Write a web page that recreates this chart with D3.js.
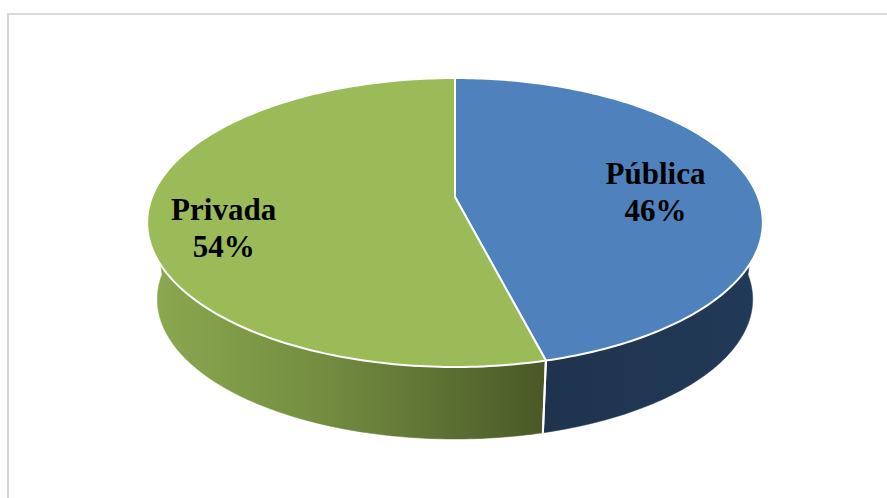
<!DOCTYPE html>
<html>
<head>
<meta charset="utf-8">
<script src="https://cdn.jsdelivr.net/npm/d3@7"></script>
<style>
  html, body { margin: 0; padding: 0; background: #ffffff; }
  svg { display: block; }
</style>
</head>
<body>
<svg id="chart" width="887" height="498"></svg>
<script>
// ---- data ----
const categories = ["Pública", "Privada"];
const values = [46, 54];
const percentLabels = ["46%", "54%"];

// ---- styles / layout ----
const topColors = ["#4f81bd", "#9bbb59"];
const W = 887, H = 498;
const svg = d3.select("#chart");

// frame
svg.append("rect")
  .attr("x", 8).attr("y", 14)
  .attr("width", W + 10).attr("height", H + 10)
  .attr("fill", "none").attr("stroke", "#d9d9d9").attr("stroke-width", 2);

// perspective projection of disc planes
const planes = {
  top:    { cx: 455, cy: 197,   A: 303, B: 140,   w: 0.1765 },
  bottom: { cx: 455, cy: 274.6, A: 293, B: 135.4, w: 0.1765 }
};
function proj(plane, a, r = 1) {
  const p = planes[plane];
  const u = r * Math.sin(a), v = -r * Math.cos(a);
  const den = 1 - p.w * v;
  return [p.cx + p.A * u / den, p.cy + p.B * v / den];
}
function arcPts(plane, a0, a1) {
  const pts = [];
  const steps = Math.max(2, Math.ceil(Math.abs(a1 - a0) / (Math.PI / 180)));
  for (let i = 0; i <= steps; i++) pts.push(proj(plane, a0 + (a1 - a0) * i / steps));
  return pts;
}
const line = d3.line().curve(d3.curveLinear);

const pie = d3.pie().sort(null).value(d => d.value);
const arcs = pie(categories.map((c, i) => ({ cat: c, value: values[i], pct: percentLabels[i], i })));

// defs: side gradients
const defs = svg.append("defs");
const gGreen = defs.append("linearGradient").attr("id", "sideGreen")
  .attr("gradientUnits", "userSpaceOnUse")
  .attr("x1", 150).attr("y1", 0).attr("x2", 542).attr("y2", 0);
gGreen.append("stop").attr("offset", 0).attr("stop-color", "#8ba94f");
gGreen.append("stop").attr("offset", 0.45).attr("stop-color", "#738c40");
gGreen.append("stop").attr("offset", 1).attr("stop-color", "#4a5927");
const gBlue = defs.append("linearGradient").attr("id", "sideBlue")
  .attr("gradientUnits", "userSpaceOnUse")
  .attr("x1", 542).attr("y1", 0).attr("x2", 760).attr("y2", 0);
gBlue.append("stop").attr("offset", 0).attr("stop-color", "#1f334e");
gBlue.append("stop").attr("offset", 1).attr("stop-color", "#213a57");
const sideFills = ["url(#sideBlue)", "url(#sideGreen)"];

// sides (front visible range only)
const visLo = Math.PI / 2, visHi = 3 * Math.PI / 2;
const sideG = svg.append("g");
arcs.forEach((d, i) => {
  const a0 = Math.max(d.startAngle, visLo), a1 = Math.min(d.endAngle, visHi);
  if (a1 <= a0) return;
  const topArc = arcPts("top", a0, a1);
  const botArc = arcPts("bottom", a0, a1).reverse();
  sideG.append("path")
    .attr("d", line(topArc.concat(botArc)) + "Z")
    .attr("fill", sideFills[i])
    .attr("stroke", sideFills[i]).attr("stroke-width", 0.5);
});
// white seam lines on the side at slice boundaries
arcs.forEach(d => {
  [d.startAngle, d.endAngle].forEach(a => {
    if (a > visLo && a < visHi) {
      const p0 = proj("top", a), p1 = proj("bottom", a);
      sideG.append("line")
        .attr("x1", p0[0]).attr("y1", p0[1]).attr("x2", p1[0]).attr("y2", p1[1])
        .attr("stroke", "#ffffff").attr("stroke-width", 2);
    }
  });
});

// tops
const topG = svg.append("g");
arcs.forEach((d, i) => {
  const pts = [proj("top", 0, 0)].concat(arcPts("top", d.startAngle, d.endAngle));
  topG.append("path")
    .attr("d", line(pts) + "Z")
    .attr("fill", topColors[i])
    .attr("stroke", "#ffffff").attr("stroke-width", 2)
    .attr("stroke-linejoin", "round");
});

// labels
const labelR = [0.66, 0.76];
const labelDy = [17, 28];
const labelDx = [5, 1];
const lg = svg.append("g")
  .attr("font-family", "'Liberation Serif', 'Times New Roman', serif")
  .attr("font-weight", "bold").attr("font-size", 31).attr("fill", "#000000")
  .attr("text-anchor", "middle");
arcs.forEach((d, i) => {
  const mid = (d.startAngle + d.endAngle) / 2;
  const [x, y] = proj("top", mid, labelR[i]);
  const t = lg.append("text").attr("x", x + labelDx[i]).attr("y", y + labelDy[i] - 18.5);
  t.append("tspan").attr("x", x + labelDx[i]).attr("dy", 0).text(d.data.cat);
  t.append("tspan").attr("x", x + labelDx[i]).attr("dy", 37).text(d.data.pct);
});
</script>
</body>
</html>
